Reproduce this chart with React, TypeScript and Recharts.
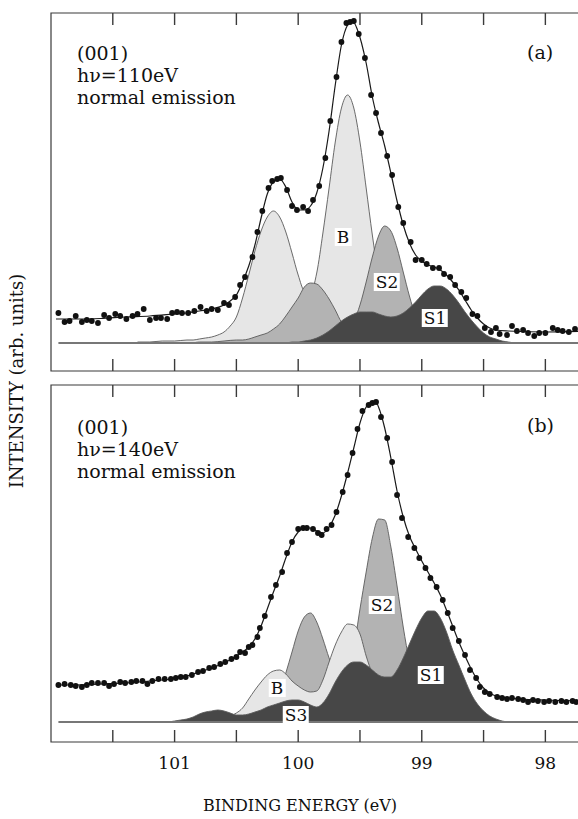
import React from 'react';
import { ComposedChart, Area, Line, Scatter, XAxis, YAxis, ReferenceArea } from 'recharts';

// ---------- axis ----------
const TICKS = [101.5, 101, 100.5, 100, 99.5, 99, 98.5, 98];
const LABEL_TICKS = [101, 100, 99, 98];
const X_MIN = 97.6;
const X_MAX = 102.0;
const BASE_LINE: [number, number][] = [[101.94, 0], [97.6, 0]];

// ---------- panel (a): hv = 110 eV ----------
const DOTS_A: [number, number][] = [
  [101.94,30],[101.89,21],[101.85,22],[101.80,27],[101.75,21],[101.71,23],[101.67,22],[101.62,20],[101.57,28],[101.53,25],
  [101.48,29],[101.44,27],[101.39,24],[101.34,27],[101.30,29],[101.25,34],[101.20,23],[101.15,25],[101.11,25],[101.06,24],
  [101.02,30],[100.98,31],[100.94,30],[100.89,30],[100.84,32],[100.79,36],[100.74,32],[100.70,34],[100.65,33],[100.60,40],
  [100.56,38],[100.51,46],[100.47,58],[100.43,66],[100.37,86],[100.33,111],[100.29,132],[100.24,155],[100.21,162],[100.17,164],
  [100.14,165],[100.09,153],[100.05,137],[100.01,133],[99.96,136],[99.92,132],[99.88,143],[99.83,157],[99.78,185],[99.74,222],
  [99.69,266],[99.65,301],[99.61,320],[99.58,321],[99.55,322],[99.51,309],[99.46,285],[99.41,248],[99.37,230],[99.33,210],
  [99.28,187],[99.24,168],[99.19,136],[99.15,120],[99.09,101],[99.05,83],[99.00,83],[98.96,79],[98.91,75],[98.86,75],
  [98.82,69],[98.77,66],[98.73,58],[98.68,51],[98.64,45],[98.59,29],[98.55,27],[98.49,15],[98.44,11],[98.40,15],
  [98.37,9],[98.31,8],[98.27,17],[98.23,12],[98.18,13],[98.14,10],[98.09,7],[98.05,10],[98.00,10],[97.94,15],
  [97.90,13],[97.86,12],[97.81,11],[97.76,14],
];
const FIT_A: [number, number][] = [
  [101.96,24],[101.8,24],[101.6,24.5],[101.4,26],[101.2,27],[101.0,29],[100.9,30],[100.8,32],[100.7,34],[100.6,38],
  [100.55,42],[100.5,48],[100.45,61],[100.4,77],[100.35,98],[100.3,125],[100.25,149],[100.2,161],[100.15,164],[100.1,156],
  [100.05,141],[100.0,133],[99.95,133],[99.9,137],[99.85,150],[99.8,175],[99.75,212],[99.7,258],[99.65,298],[99.6,318],
  [99.56,322],[99.52,313],[99.45,280],[99.4,246],[99.35,220],[99.3,197],[99.25,170],[99.2,142],[99.15,118],[99.1,100],
  [99.05,88],[99.0,82],[98.95,78],[98.9,76],[98.85,73],[98.8,68],[98.75,61],[98.7,53],[98.65,43],[98.6,33],
  [98.55,25],[98.5,19],[98.45,15],[98.4,13],[98.3,12],[98.0,11],[97.6,12],
];
// bulk component B (light)
const LIGHT_A: [number, number][] = [
  [101.30,1],[101.20,1],[101.10,2],[101.00,2],[100.90,3],[100.85,3],[100.80,4],[100.75,5],[100.70,6],[100.65,8],
  [100.60,11],[100.55,17],[100.50,26],[100.45,45],[100.40,68],[100.35,92],[100.30,112],[100.25,126],[100.20,132],[100.15,126],
  [100.10,111],[100.05,90],[100.00,68],[99.95,52],[99.90,50],[99.85,70],[99.80,110],[99.75,155],[99.70,201],[99.65,235],
  [99.60,248],[99.55,235],[99.50,201],[99.45,155],[99.40,108],[99.35,67],[99.30,38],[99.25,19],[99.20,10],[99.15,5],
  [99.10,3],[99.05,2],[99.00,1],[98.90,1],[98.80,0],[98.20,0],
];
// surface component S2 (medium)
const MED_A: [number, number][] = [
  [100.85,0],[100.80,1],[100.70,1],[100.60,2],[100.50,3],[100.45,3],[100.40,4],[100.35,6],[100.30,8],[100.25,10],
  [100.20,14],[100.15,19],[100.10,27],[100.05,36],[100.00,45],[99.95,56],[99.90,60],[99.85,59],[99.80,53],[99.75,44],
  [99.70,33],[99.65,21],[99.60,16],[99.55,22],[99.50,38],[99.45,61],[99.40,86],[99.35,107],[99.30,117],[99.25,112],
  [99.20,95],[99.15,71],[99.10,47],[99.05,27],[99.00,14],[98.95,7],[98.90,4],[98.85,2],[98.80,1],[98.75,0],
];
// surface component S1 (dark)
const DARK_A: [number, number][] = [
  [100.15,0],[100.10,0],[100.05,1],[100.00,1],[99.95,2],[99.90,3],[99.85,5],[99.80,8],[99.75,12],[99.70,17],
  [99.65,22],[99.60,26],[99.55,29],[99.50,31],[99.45,31],[99.40,31],[99.35,29],[99.30,27],[99.25,26],[99.20,27],
  [99.15,30],[99.10,35],[99.05,41],[99.00,48],[98.95,54],[98.90,57],[98.85,57],[98.80,54],[98.75,48],[98.70,40],
  [98.65,31],[98.60,23],[98.55,16],[98.50,10],[98.45,6],[98.40,4],[98.35,2],[98.30,1],[98.25,0],
];

// ---------- panel (b): hv = 140 eV ----------
const DOTS_B: [number, number][] = [
  [101.94,37],[101.89,38],[101.84,37],[101.80,36],[101.75,35],[101.71,37],[101.67,39],[101.62,39],[101.57,39],[101.53,36],
  [101.49,38],[101.44,40],[101.40,39],[101.35,40],[101.31,41],[101.26,41],[101.22,38],[101.18,41],[101.13,43],[101.08,43],
  [101.03,43],[100.99,44],[100.95,45],[100.91,45],[100.86,47],[100.81,50],[100.77,51],[100.72,54],[100.68,55],[100.63,58],
  [100.59,60],[100.54,63],[100.50,65],[100.47,70],[100.43,69],[100.40,75],[100.37,77],[100.33,85],[100.31,94],[100.27,106],
  [100.22,125],[100.18,137],[100.13,150],[100.09,169],[100.05,180],[100.00,193],[99.96,194],[99.93,194],[99.88,193],[99.84,189],
  [99.81,187],[99.77,193],[99.73,197],[99.69,210],[99.64,230],[99.60,247],[99.56,269],[99.52,293],[99.48,311],[99.43,317],
  [99.40,319],[99.37,320],[99.33,305],[99.28,284],[99.24,260],[99.20,227],[99.16,204],[99.11,185],[99.06,174],[99.02,164],
  [98.97,154],[98.93,144],[98.88,135],[98.83,122],[98.79,109],[98.75,94],[98.70,81],[98.65,67],[98.61,52],[98.56,44],
  [98.53,35],[98.49,30],[98.45,28],[98.39,25],[98.35,24],[98.31,23],[98.27,24],[98.22,23],[98.18,22],[98.14,20],
  [98.10,22],[98.06,21],[98.01,20],[97.97,21],[97.92,20],[97.87,21],[97.83,20],[97.78,21],[97.75,20],
];
const FIT_B: [number, number][] = [
  [101.96,37],[101.8,37],[101.6,38],[101.4,39],[101.2,41],[101.0,43.5],[100.9,46],[100.8,50],[100.7,54],[100.6,59],
  [100.5,66],[100.45,70],[100.4,75],[100.35,83],[100.3,96],[100.25,113],[100.2,130],[100.15,146],[100.1,164],[100.05,180],
  [100.0,190],[99.95,194],[99.9,194],[99.85,191],[99.8,189],[99.75,195],[99.7,207],[99.65,226],[99.6,249],[99.55,274],
  [99.5,299],[99.45,315],[99.4,320],[99.37,320],[99.35,315],[99.3,294],[99.25,264],[99.2,231],[99.15,205],[99.1,186],
  [99.05,173],[99.0,161],[98.95,150],[98.9,139],[98.85,127],[98.8,112],[98.75,96],[98.7,80],[98.65,66],[98.6,53],
  [98.55,42],[98.5,34],[98.45,29],[98.4,26],[98.35,25],[98.3,24],[98.2,23],[98.0,22],[97.6,21],
];
const LIGHT_B: [number, number][] = [
  [100.85,0],[100.80,1],[100.75,1],[100.70,2],[100.65,3],[100.60,4],[100.55,6],[100.50,9],[100.45,14],[100.40,23],
  [100.35,32],[100.30,40],[100.25,47],[100.20,51],[100.15,52],[100.10,48],[100.05,41],[100.00,36],[99.95,32],[99.90,30],
  [99.85,31],[99.80,42],[99.75,60],[99.70,77],[99.65,90],[99.60,98],[99.55,97],[99.50,88],[99.45,66],[99.40,48],
  [99.35,33],[99.30,21],[99.25,12],[99.20,7],[99.15,4],[99.10,2],[99.05,1],[99.00,0],
];
const MED_B: [number, number][] = [
  [100.45,0],[100.40,2],[100.35,3],[100.30,5],[100.25,9],[100.20,17],[100.15,30],[100.10,49],[100.05,70],[100.00,91],
  [99.95,105],[99.90,109],[99.85,100],[99.80,83],[99.75,64],[99.70,48],[99.65,42],[99.60,50],[99.55,74],[99.50,113],
  [99.45,150],[99.40,184],[99.35,203],[99.30,202],[99.25,175],[99.20,136],[99.15,95],[99.10,60],[99.05,34],[99.00,17],
  [98.95,8],[98.90,3],[98.85,1],[98.80,0],
];
const DARK_B: [number, number][] = [
  [101.05,0],[101.00,1],[100.95,2],[100.90,3],[100.85,5],[100.80,8],[100.75,10],[100.70,11],[100.65,12],[100.60,11],
  [100.55,9],[100.50,7],[100.45,7],[100.40,8],[100.35,10],[100.30,12],[100.25,15],[100.20,17],[100.15,19],[100.10,21],
  [100.05,22],[100.00,22],[99.95,20],[99.90,17],[99.85,15],[99.80,19],[99.75,28],[99.70,40],[99.65,50],[99.60,57],
  [99.55,60],[99.50,60],[99.45,57],[99.40,52],[99.35,47],[99.30,45],[99.25,45],[99.20,52],[99.15,64],[99.10,78],
  [99.05,92],[99.00,104],[98.95,111],[98.90,111],[98.85,104],[98.80,90],[98.75,72],[98.70,57],[98.65,42],[98.60,28],
  [98.55,18],[98.50,11],[98.45,6],[98.40,3],[98.35,1],[98.30,0],
];

const FONT = "'DejaVu Serif', serif";
const LIGHT = '#e6e6e6';
const MEDIUM = '#b3b3b3';
const DARK = '#474747';
const OUTLINE = '#5a5a5a';
const FRAME = '#3a3a3a';

const pts = (a: [number, number][]) => a.map(([e, v]) => ({ e, v }));

type Layer = { data: [number, number][]; fill: string };

// inward tick marks rendered by mirrored axes
const TickUp = (p: any) => (
  <line x1={p.x} x2={p.x} y1={p.y} y2={p.y - 12} stroke={FRAME} strokeWidth={1.4} />
);
const TickDown = (p: any) => (
  <line x1={p.x} x2={p.x} y1={p.y} y2={p.y + 12} stroke={FRAME} strokeWidth={1.4} />
);

function Panel(props: {
  height: number;
  margin: { top: number; right: number; bottom: number; left: number };
  yDomain: [number, number];
  dots: [number, number][];
  fit: [number, number][];
  layers: Layer[];
  labels: boolean;
}) {
  const { height, margin, yDomain, dots, fit, layers, labels } = props;
  const [y0, y1] = yDomain;
  return (
    <ComposedChart width={600} height={height} margin={margin}>
      <XAxis xAxisId="b" dataKey="e" type="number" domain={[X_MIN, X_MAX]} reversed allowDataOverflow
        orientation="bottom" hide={!labels} ticks={LABEL_TICKS} interval={0} tickLine={false} axisLine={false}
        tickSize={0} tickMargin={15} height={30}
        tick={{ fontSize: 17, fontFamily: FONT, fill: '#111' }} />
      <XAxis xAxisId="mb" dataKey="e" type="number" domain={[X_MIN, X_MAX]} reversed allowDataOverflow
        orientation="bottom" mirror ticks={TICKS} interval={0} tickLine={false} axisLine={false}
        tickSize={0} tickMargin={0} tick={TickUp} />
      <XAxis xAxisId="mt" dataKey="e" type="number" domain={[X_MIN, X_MAX]} reversed allowDataOverflow
        orientation="top" mirror ticks={TICKS} interval={0} tickLine={false} axisLine={false}
        tickSize={0} tickMargin={0} tick={TickDown} />
      <YAxis yAxisId="y" dataKey="v" type="number" domain={yDomain} hide allowDataOverflow />
      <ReferenceArea xAxisId="b" yAxisId="y" x1={X_MAX} x2={X_MIN} y1={y0} y2={y1}
        fill="none" fillOpacity={0} stroke={FRAME} strokeWidth={1.2} ifOverflow="visible" />
      <Line xAxisId="b" yAxisId="y" data={pts(BASE_LINE)} dataKey="v" stroke="#777" strokeWidth={2}
        dot={false} isAnimationActive={false} />
      {layers.map((l, i) => (
        <Area key={'ar' + i} xAxisId="b" yAxisId="y" data={pts(l.data)} dataKey="v" type="monotone" baseValue={0}
          fill={l.fill} fillOpacity={1} stroke={OUTLINE} strokeWidth={0.9} isAnimationActive={false} />
      ))}
      <Line xAxisId="b" yAxisId="y" data={pts(fit)} dataKey="v" type="monotone" stroke="#1a1a1a"
        strokeWidth={1.2} dot={false} isAnimationActive={false} />
      <Scatter xAxisId="b" yAxisId="y" data={pts(dots)} dataKey="v" isAnimationActive={false}
        shape={(p: any) => <circle cx={p.cx} cy={p.cy} r={2.9} fill="#111" />} />
    </ComposedChart>
  );
}

const txt: React.CSSProperties = {
  position: 'absolute', fontFamily: FONT, color: '#111', whiteSpace: 'nowrap',
};

function Tag({ x, y, children }: { x: number; y: number; children: React.ReactNode }) {
  return (
    <div style={{ ...txt, left: x, top: y, transform: 'translate(-50%, -50%)', background: '#fff',
      fontSize: 17, lineHeight: '18px', padding: '0 2px' }}>{children}</div>
  );
}

export default function App() {
  return (
    <div style={{ position: 'absolute', left: 0, top: 0, width: 578, height: 819, overflow: 'hidden', background: '#fff' }}>
      <div style={{ position: 'absolute', left: 0, top: 0 }}>
        <Panel height={408} margin={{ top: 13, right: 5.2, bottom: 37, left: 51 }} yDomain={[-28, 330]}
          dots={DOTS_A} fit={FIT_A} labels={false}
          layers={[{ data: LIGHT_A, fill: LIGHT }, { data: MED_A, fill: MEDIUM }, { data: DARK_A, fill: DARK }]} />
      </div>
      <div style={{ position: 'absolute', left: 0, top: 378 }}>
        <Panel height={441} margin={{ top: 7, right: 5.2, bottom: 47, left: 51 }} yDomain={[-20, 337]}
          dots={DOTS_B} fit={FIT_B} labels={true}
          layers={[{ data: MED_B, fill: MEDIUM }, { data: LIGHT_B, fill: LIGHT }, { data: DARK_B, fill: DARK }]} />
      </div>

      <div style={{ ...txt, left: 77, top: 42, fontSize: 19, lineHeight: '22px' }}>
        (001)<br />hν=110eV<br />normal emission
      </div>
      <div style={{ ...txt, left: 527, top: 41, fontSize: 19, lineHeight: '22px' }}>(a)</div>
      <div style={{ ...txt, left: 77, top: 416, fontSize: 19, lineHeight: '22px' }}>
        (001)<br />hν=140eV<br />normal emission
      </div>
      <div style={{ ...txt, left: 527, top: 414, fontSize: 19, lineHeight: '22px' }}>(b)</div>

      <Tag x={343} y={237}>B</Tag>
      <Tag x={387} y={282}>S2</Tag>
      <Tag x={435} y={318}>S1</Tag>

      <Tag x={382} y={605}>S2</Tag>
      <Tag x={431} y={675}>S1</Tag>
      <Tag x={277} y={688}>B</Tag>
      <Tag x={296} y={715}>S3</Tag>

      <div style={{ ...txt, left: 16, top: 381, fontSize: 18, transform: 'translate(-50%, -50%) rotate(-90deg)' }}>
        INTENSITY (arb. units)
      </div>
      <div style={{ ...txt, left: 300, top: 805, fontSize: 16, transform: 'translate(-50%, -50%)' }}>
        BINDING ENERGY (eV)
      </div>
    </div>
  );
}
